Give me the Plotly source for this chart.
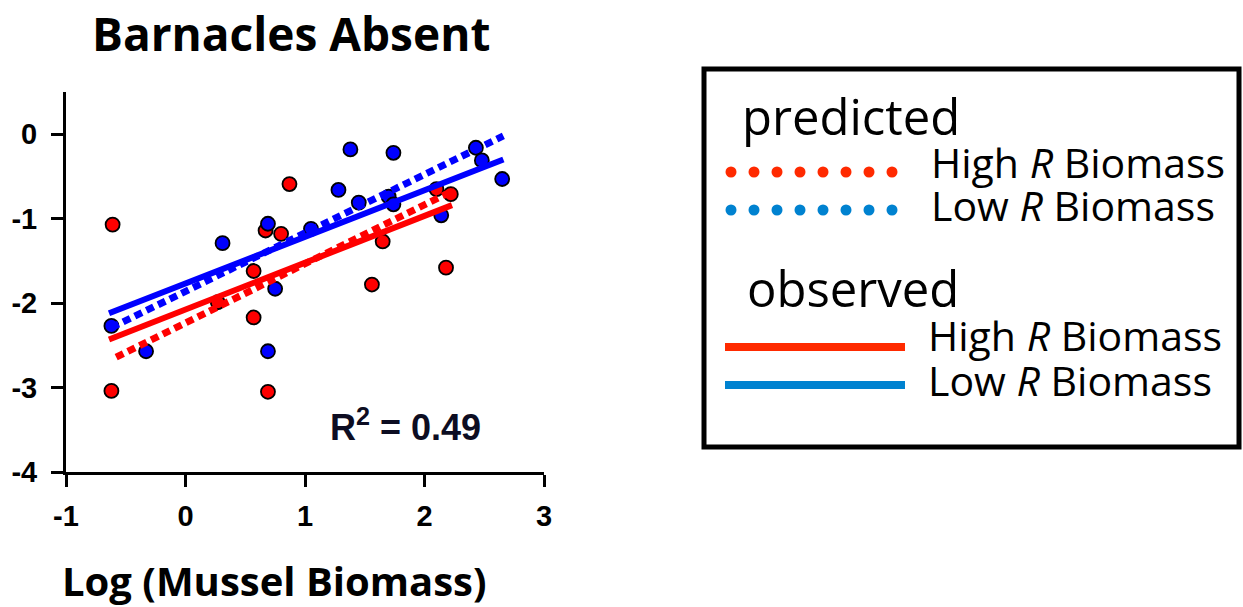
import plotly.graph_objects as go

W, H = 1243, 607

# ---------------- data ----------------
high_x = [-0.61, -0.62, 0.27, 0.57, 0.57, 0.67, 0.69, 0.80, 0.87, 1.56, 1.65, 2.10, 2.18, 2.22]
high_y = [-1.07, -3.04, -1.99, -1.62, -2.17, -1.14, -3.05, -1.18, -0.59, -1.78, -1.27, -0.65, -1.58, -0.71]

low_x = [-0.62, -0.33, 0.31, 0.69, 0.69, 0.75, 1.05, 1.28, 1.38, 1.45, 1.70, 1.74, 1.74, 2.14, 2.43, 2.48, 2.65]
low_y = [-2.27, -2.57, -1.29, -1.06, -2.57, -1.83, -1.12, -0.66, -0.18, -0.81, -0.74, -0.22, -0.83, -0.96, -0.16, -0.31, -0.53]

obs_high_x = [-0.64, 2.23]
obs_high_y = [-2.43, -0.84]
obs_low_x = [-0.64, 2.66]
obs_low_y = [-2.12, -0.30]
pred_high_x = [-0.58, 2.25]
pred_high_y = [-2.64, -0.66]
pred_low_x = [-0.62, 2.66]
pred_low_y = [-2.29, -0.02]

x_ticks = [-1, 0, 1, 2, 3]
y_ticks = [-4, -3, -2, -1, 0]

title_text = "Barnacles Absent"
xlabel_text = "Log (Mussel Biomass)"
r2_text = "R<sup>2</sup> = 0.49"
legend_groups = ["predicted", "observed"]
legend_items = ["High <i>R</i> Biomass", "Low <i>R</i> Biomass"]

# ---------------- styles ----------------
RED, BLUE = "#FF0000", "#0000FF"
LRED, LBLUE = "#FF2A00", "#0082D0"
COMIC = "Comic Sans MS, Open Sans, sans-serif"
ARIAL = "Arial, Liberation Sans, sans-serif"
CLEAR = "rgba(0,0,0,0)"

# plot area in pixels
PL, PR, PT, PB = 66, 544, 92, 472

fig = go.Figure()

marker_line = dict(color="black", width=1.8)
fig.add_trace(go.Scatter(x=high_x, y=high_y, mode="markers",
                         marker=dict(color=RED, size=14, line=marker_line), showlegend=False))
fig.add_trace(go.Scatter(x=low_x, y=low_y, mode="markers",
                         marker=dict(color=BLUE, size=14, line=marker_line), showlegend=False))

fig.add_trace(go.Scatter(x=obs_high_x, y=obs_high_y, mode="lines",
                         line=dict(color=RED, width=6), showlegend=False))
fig.add_trace(go.Scatter(x=obs_low_x, y=obs_low_y, mode="lines",
                         line=dict(color=BLUE, width=6), showlegend=False))
fig.add_trace(go.Scatter(x=pred_high_x, y=pred_high_y, mode="lines",
                         line=dict(color=RED, width=7, dash="8px,5px"), showlegend=False))
fig.add_trace(go.Scatter(x=pred_low_x, y=pred_low_y, mode="lines",
                         line=dict(color=BLUE, width=7, dash="8px,5px"), showlegend=False))

# ---------------- legend (drawn on a pixel-space overlay axis) ----------------
dot_x = [731 + 23 * i for i in range(8)]
fig.add_trace(go.Scatter(x=dot_x, y=[172] * 8, mode="markers", xaxis="x2", yaxis="y2",
                         marker=dict(color=LRED, size=11), showlegend=False, hoverinfo="skip"))
fig.add_trace(go.Scatter(x=dot_x, y=[210] * 8, mode="markers", xaxis="x2", yaxis="y2",
                         marker=dict(color=LBLUE, size=11), showlegend=False, hoverinfo="skip"))

shapes = [
    dict(type="rect", xref="x2", yref="y2", x0=704, x1=1239, y0=69, y1=447,
         line=dict(color="black", width=5)),
    dict(type="line", xref="x2", yref="y2", x0=725, x1=905, y0=347, y1=347,
         line=dict(color=LRED, width=8)),
    dict(type="line", xref="x2", yref="y2", x0=725, x1=905, y0=385, y1=385,
         line=dict(color=LBLUE, width=8)),
]

def px_ann(text, x, y, size, xanchor="left", bold=False, family=COMIC, color="black"):
    return dict(text=f"<b>{text}</b>" if bold else text, x=x / W, y=1 - y / H,
                xref="paper", yref="paper", xanchor=xanchor, yanchor="middle",
                showarrow=False, font=dict(family=family, size=size, color=color))

annotations = [
    px_ann(title_text, 291, 33, 46, xanchor="center", bold=True),
    px_ann(xlabel_text, 274, 580, 40, xanchor="center", bold=True),
    px_ann(r2_text, 405, 425, 36, xanchor="center", bold=True, family=ARIAL, color="#0d0d22"),
    px_ann(legend_groups[0], 740, 116, 49),
    px_ann(legend_items[0], 929, 162, 41),
    px_ann(legend_items[1], 929, 205, 41),
    px_ann(legend_groups[1], 745, 288, 49),
    px_ann(legend_items[0], 926, 335, 41),
    px_ann(legend_items[1], 926, 380, 41),
]

tickfont = dict(family=ARIAL, size=29, color="black")
fig.update_layout(
    width=W, height=H,
    margin=dict(l=0, r=0, t=0, b=0, pad=0),
    paper_bgcolor="white", plot_bgcolor=CLEAR,
    showlegend=False,
    xaxis=dict(domain=[PL / W, PR / W], range=[-1, 3], tickvals=x_ticks,
               ticktext=[f"<b>{v}</b>" for v in x_ticks],
               showline=True, linecolor="black", linewidth=3,
               ticks="outside", ticklen=12, tickwidth=3, tickcolor="black",
               showgrid=False, zeroline=False, tickfont=tickfont, anchor="y",
               ticklabelstandoff=4, automargin=False),
    yaxis=dict(domain=[1 - PB / H, 1 - PT / H], range=[-4, 0.5], tickvals=y_ticks,
               ticktext=[f"<b>{v}</b>" for v in y_ticks],
               showline=True, linecolor="black", linewidth=3,
               ticks="outside", ticklen=12, tickwidth=3, tickcolor="black",
               showgrid=False, zeroline=False, tickfont=tickfont, anchor="x",
               ticklabelstandoff=8, automargin=False),
    xaxis2=dict(domain=[0, 1], range=[0, W], visible=False, anchor="y2",
                fixedrange=True, automargin=False),
    yaxis2=dict(domain=[0, 1], range=[H, 0], visible=False, anchor="x2",
                fixedrange=True, automargin=False),
    shapes=shapes,
    annotations=annotations,
)

fig.write_html("out.html")
